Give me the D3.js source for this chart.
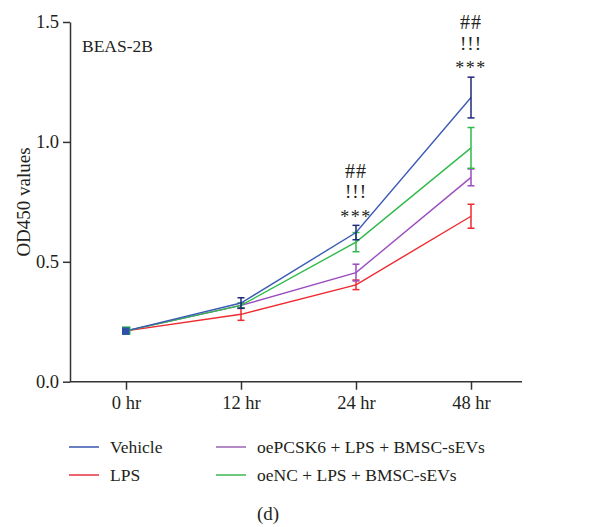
<!DOCTYPE html>
<html><head><meta charset="utf-8">
<script src="https://cdn.jsdelivr.net/npm/d3@7"></script>
<style>body{margin:0;background:#fff}svg{display:block}text{font-family:"Liberation Serif","Times New Roman",serif;fill:#231f20}</style>
</head><body>
<script>
const timepoints = ["0 hr","12 hr","24 hr","48 hr"];
const yTicks = [0.0,0.5,1.0,1.5];
const seriesNames = ["Vehicle","LPS","oePCSK6 + LPS + BMSC-sEVs","oeNC + LPS + BMSC-sEVs"];
const vehicleMean = [0.212,0.328,0.622,1.185];
const vehicleErr  = [0,0.022,0.03,0.085];
const lpsMean = [0.212,0.281,0.404,0.690];
const lpsErr  = [0,0.025,0.02,0.05];
const oePCSK6Mean = [0.212,0.318,0.455,0.852];
const oePCSK6Err  = [0,0.01,0.035,0.035];
const oeNCMean = [0.212,0.318,0.582,0.975];
const oeNCErr  = [0,0.01,0.04,0.085];
const sigLabels = ["##","!!!","***"];
const sigAt = ["24 hr","48 hr"];

const W=609,H=527;
const svg=d3.select("body").append("svg").attr("width",W).attr("height",H);
const y=d3.scaleLinear().domain([0,1.5]).range([381.7,22]);
const x=d3.scalePoint().domain(timepoints).range([126,471]);
const ink="#333";
const FF="Liberation Serif";

// y axis
const ya=svg.append("g").attr("transform","translate(70,0)")
  .call(d3.axisLeft(y).tickValues(yTicks).tickFormat(d3.format(".1f")).tickSize(7).tickSizeOuter(0));
ya.select(".domain").attr("stroke",ink).attr("stroke-width",1.5);
ya.selectAll(".tick line").attr("stroke",ink).attr("stroke-width",1.5);
ya.selectAll(".tick text").attr("font-size",18.5).attr("x",-11).style("font-family",FF).attr("fill","#231f20");

// x axis
const xa=svg.append("g").attr("transform","translate(0,381.7)")
  .call(d3.axisBottom(x).tickSize(8).tickSizeOuter(0));
xa.select(".domain").attr("d","M70,0H522").attr("stroke",ink).attr("stroke-width",1.5);
xa.selectAll(".tick line").attr("stroke",ink).attr("stroke-width",1.5);
xa.selectAll(".tick text").attr("font-size",18.5).attr("y",14).style("font-family",FF).attr("fill","#231f20");

// y label
svg.append("text").attr("transform","translate(23,202) rotate(-90)").attr("text-anchor","middle")
  .attr("dominant-baseline","central").attr("font-size",19).text("OD450 values");
svg.append("text").attr("x",82).attr("y",52).attr("font-size",17.5).text("BEAS-2B");

const series=[
 {name:seriesNames[0],mean:vehicleMean,err:vehicleErr,line:"#3c5bb4",bar:"#1f2a7a",leg:"#6b80c2"},
 {name:seriesNames[1],mean:lpsMean,err:lpsErr,line:"#ee2a2f",bar:"#ee2a2f",leg:"#ee6570"},
 {name:seriesNames[2],mean:oePCSK6Mean,err:oePCSK6Err,line:"#9b4dbf",bar:"#9b4dbf",leg:"#b58ac9"},
 {name:seriesNames[3],mean:oeNCMean,err:oeNCErr,line:"#2fba4a",bar:"#2fba4a",leg:"#6cc97e"}
];
const drawOrder=[1,2,3,0];
const line=d3.line().x((d,i)=>x(timepoints[i])).y(d=>y(d));
drawOrder.forEach(k=>{
  const s=series[k];
  const g=svg.append("g");
  g.append("path").attr("d",line(s.mean)).attr("fill","none").attr("stroke",s.line).attr("stroke-width",1.4);
  s.mean.forEach((m,i)=>{
    const e=s.err[i]; if(!e) return;
    const cx=x(timepoints[i]);
    g.append("line").attr("x1",cx).attr("x2",cx).attr("y1",y(m-e)).attr("y2",y(m+e)).attr("stroke",s.bar).attr("stroke-width",1.5);
    [m-e,m+e].forEach(v=>g.append("line").attr("x1",cx-3.5).attr("x2",cx+3.5).attr("y1",y(v)).attr("y2",y(v)).attr("stroke",s.bar).attr("stroke-width",1.5));
  });
});
// markers at 0 hr
svg.append("rect").attr("x",x(timepoints[0])-4).attr("y",y(oeNCMean[0])-4.5).attr("width",8.5).attr("height",8.5).attr("fill","#2fba4a");
svg.append("rect").attr("x",x(timepoints[0])-4).attr("y",y(vehicleMean[0])-3.5).attr("width",7.5).attr("height",7.5).attr("fill","#2e50a8");

// significance
const sigTop={"24 hr":[0.880,0.792,0.703],"48 hr":[1.501,1.412,1.325]};
sigAt.forEach(t=>{
  sigLabels.forEach((lab,j)=>{
    svg.append("text").attr("x",x(t)).attr("y",y(sigTop[t][j])).attr("text-anchor","middle")
      .attr("dominant-baseline","central").attr("font-size",lab==="***"?18:(lab==="##"?20:19))
      .attr("dy",lab==="***"?"0.2em":"0")
      .attr("letter-spacing",lab==="***"?"1.5px":"1px").text(lab);
  });
});

// legend
const legPos=[[69,447],[69,475],[216,447],[216,475]];
series.forEach((s,i)=>{
  const [lx,ly]=legPos[i];
  svg.append("line").attr("x1",lx).attr("x2",lx+30).attr("y1",ly).attr("y2",ly).attr("stroke",s.leg).attr("stroke-width",2);
  svg.append("text").attr("x",lx+41).attr("y",ly).attr("dominant-baseline","central").attr("font-size",17.5).text(s.name);
});
svg.append("text").attr("x",268).attr("y",513).attr("text-anchor","middle").attr("dominant-baseline","central").attr("font-size",19).text("(d)");
</script>
</body></html>
